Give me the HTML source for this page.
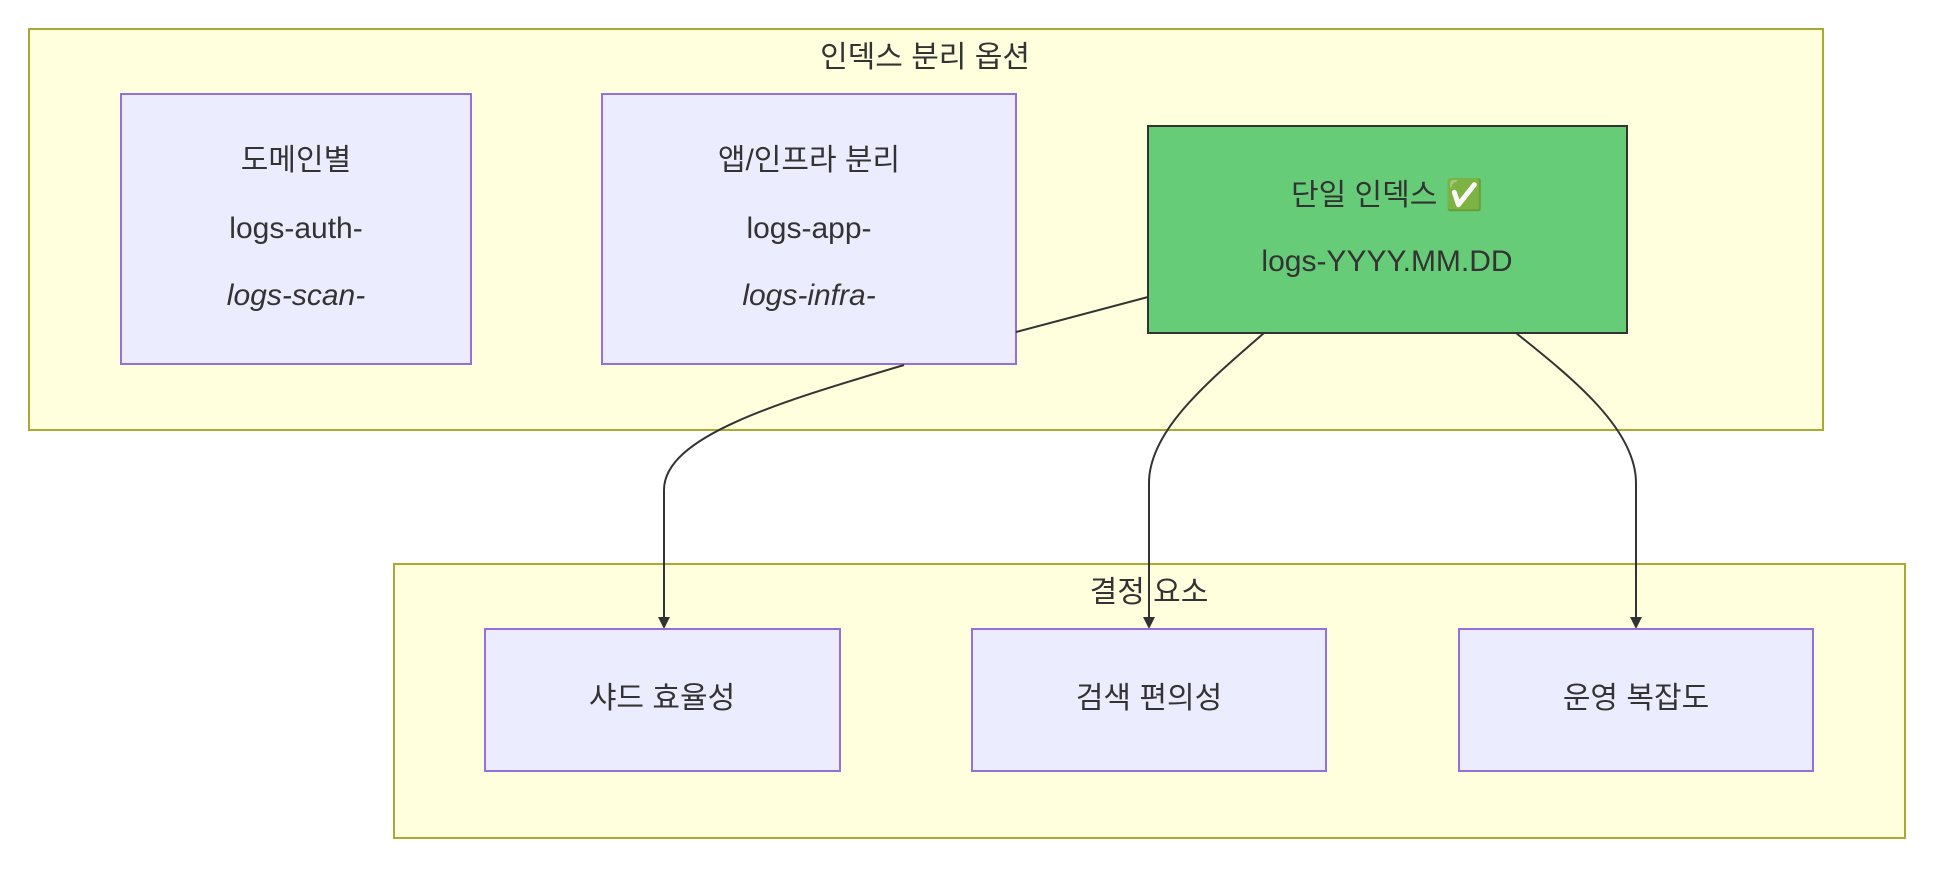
<!DOCTYPE html>
<html><head><meta charset="utf-8"><style>
body{margin:0;background:#fff;}
svg text{font-family:"Liberation Sans","Noto Sans CJK KR",sans-serif;font-size:30px;fill:#333;text-anchor:middle;dominant-baseline:middle;}
</style></head><body>
<svg width="1942" height="884" viewBox="0 0 1942 884" xmlns="http://www.w3.org/2000/svg">
<defs><marker id="a" markerWidth="12" markerHeight="12" refX="10" refY="6" orient="auto" markerUnits="userSpaceOnUse"><path d="M0,0 L12,6 L0,12 z" fill="#333"/></marker></defs>
<rect x="29" y="29" width="1794" height="401" fill="#ffffde" stroke="#aaaa33" stroke-width="2"/>
<rect x="394" y="564" width="1511" height="274" fill="#ffffde" stroke="#aaaa33" stroke-width="2"/>
<text x="925" y="59">인덱스 분리 옵션</text>
<rect x="121" y="94" width="350" height="270" fill="#ececff" stroke="#9370db" stroke-width="2"/>
<text x="296" y="162">도메인별</text>
<text x="296" y="230">logs-auth-</text>
<text x="296" y="297" font-style="italic">logs-scan-</text>
<rect x="602" y="94" width="414" height="270" fill="#ececff" stroke="#9370db" stroke-width="2"/>
<text x="809" y="162">앱/인프라 분리</text>
<text x="809" y="230">logs-app-</text>
<text x="809" y="297" font-style="italic">logs-infra-</text>
<path d="M1148,297 L1016,332 M904,365 C780,402 664,436 664,490 L664,627" fill="none" stroke="#333" stroke-width="2" marker-end="url(#a)"/>
<path d="M1264,333 C1210,380 1149,430 1149,483 L1149,627" fill="none" stroke="#333" stroke-width="2" marker-end="url(#a)"/>
<path d="M1516,333 C1575,380 1636,430 1636,483 L1636,627" fill="none" stroke="#333" stroke-width="2" marker-end="url(#a)"/>
<rect x="1148" y="126" width="479" height="207" fill="#66cc77" stroke="#333" stroke-width="2"/>
<text x="1387" y="197">단일 인덱스 ✅</text>
<text x="1387" y="263">logs-YYYY.MM.DD</text>
<text x="1149" y="594">결정 요소</text>
<rect x="485" y="629" width="355" height="142" fill="#ececff" stroke="#9370db" stroke-width="2"/>
<text x="662" y="700">샤드 효율성</text>
<rect x="972" y="629" width="354" height="142" fill="#ececff" stroke="#9370db" stroke-width="2"/>
<text x="1149" y="700">검색 편의성</text>
<rect x="1459" y="629" width="354" height="142" fill="#ececff" stroke="#9370db" stroke-width="2"/>
<text x="1636" y="700">운영 복잡도</text>
</svg>
</body></html>
